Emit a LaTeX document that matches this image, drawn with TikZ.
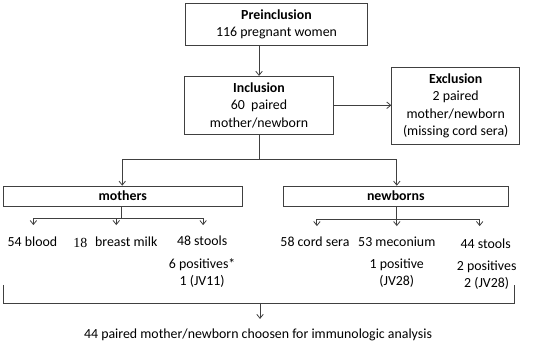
\documentclass[tikz,border=0pt]{standalone}
\usepackage{fontspec}
\setmainfont{Carlito}
\newfontfamily\seriffont{Liberation Serif}
\usetikzlibrary{arrows.meta}
\definecolor{ln}{HTML}{404040}
\begin{document}
\begin{tikzpicture}[x=1pt,y=-1pt,
  font=\fontsize{13.9}{17.5}\selectfont,
  line width=0.9pt,
  every path/.style={draw=ln},
  arr/.style={-{Straight Barb[length=4pt,width=6.5pt,line width=0.8pt]}},
  box/.style={draw=ln,line width=0.9pt,inner sep=0pt,align=center},
  txt/.style={inner sep=0pt,align=center}]
\useasboundingbox (0,0) rectangle (550,352);
\fill[white] (0,0) rectangle (550,352);
% boxes
\node[box,minimum width=183pt,minimum height=42pt] (pre) at (276.5,24) {\textbf{Preinclusion}\\116 pregnant women};
\node[box,minimum width=150pt,minimum height=58pt] (inc) at (259,105) {\textbf{Inclusion}\\60~ paired\\mother/newborn};
\node[box,minimum width=128pt,minimum height=77pt] (exc) at (456,105.5) {\textbf{Exclusion}\\2 paired\\mother/newborn\\(missing cord sera)};
\node[box,minimum width=239pt,minimum height=20pt] (mo) at (122.5,196) {\textbf{mothers}};
\node[box,minimum width=226pt,minimum height=20pt] (nb) at (396,196) {\textbf{newborns}};
% top connectors
\draw[arr] (inc.north |- pre.south) -- (inc.north);
\draw[arr] (inc.east) -- (exc.west |- inc.east);
\coordinate (s1) at (259,159);
\draw (inc.south) -- (s1);
\coordinate (sl) at (122,159);
\coordinate (sr) at (397,159);
\draw (sl) -- (sr);
\draw[arr] (sl) -- (sl |- mo.north);
\draw[arr] (sr) -- (sr |- nb.north);
% mothers branches
\coordinate (m0) at (121,218);
\coordinate (ma) at (33,218);
\coordinate (mb) at (116,218);
\coordinate (mc) at (203,218);
\draw (m0 |- mo.south) -- (m0);
\draw (ma) -- (mc);
\coordinate (mae) at (33,225);
\coordinate (mbe) at (116,225);
\coordinate (mce) at (203,225);
\draw[arr] (ma) -- (mae);
\draw[arr] (mb) -- (mbe);
\draw[arr] (mc) -- (mce);
% newborn branches
\coordinate (na) at (317,219);
\coordinate (nc) at (480,219);
\coordinate (nbe) at (397,226);
\coordinate (nae) at (317,226);
\coordinate (nce) at (480,226);
\draw[arr] (nb.south -| nbe) -- (nbe);
\draw (na) -- (nc);
\draw[arr] (na) -- (nae);
\draw[arr] (nc) -- (nce);
% leaf texts
\node[txt] (t1) at (32,242) {54 blood};
\node[txt] (t2a) at (80,243) {\seriffont 18};
\node[txt] (t2) at (126,242) {breast milk};
\node[txt] (t3) at (202,242) {48 stools\strut};
\node[txt] (t3b) at (202,273) {6 positives*\\1 (JV11)};
\node[txt] (t4) at (315,242) {58 cord sera};
\node[txt] (t5) at (397,242) {53 meconium};
\node[txt] (t5b) at (397,273) {1 positive\\(JV28)};
\node[txt] (t6) at (486,244) {44 stools};
\node[txt] (t6b) at (487,275) {2 positives\\2 (JV28)};
% bracket
\coordinate (bl) at (3,285);
\coordinate (br) at (515,285);
\coordinate (bm) at (260,303);
\draw (bl) -- (bl |- bm) -- (br |- bm) -- (br);
\node[txt] (fin) at (258,335) {44 paired mother/newborn choosen for immunologic analysis};
\draw[arr] (bm) -- (bm |- 0,319);
\end{tikzpicture}
\end{document}
